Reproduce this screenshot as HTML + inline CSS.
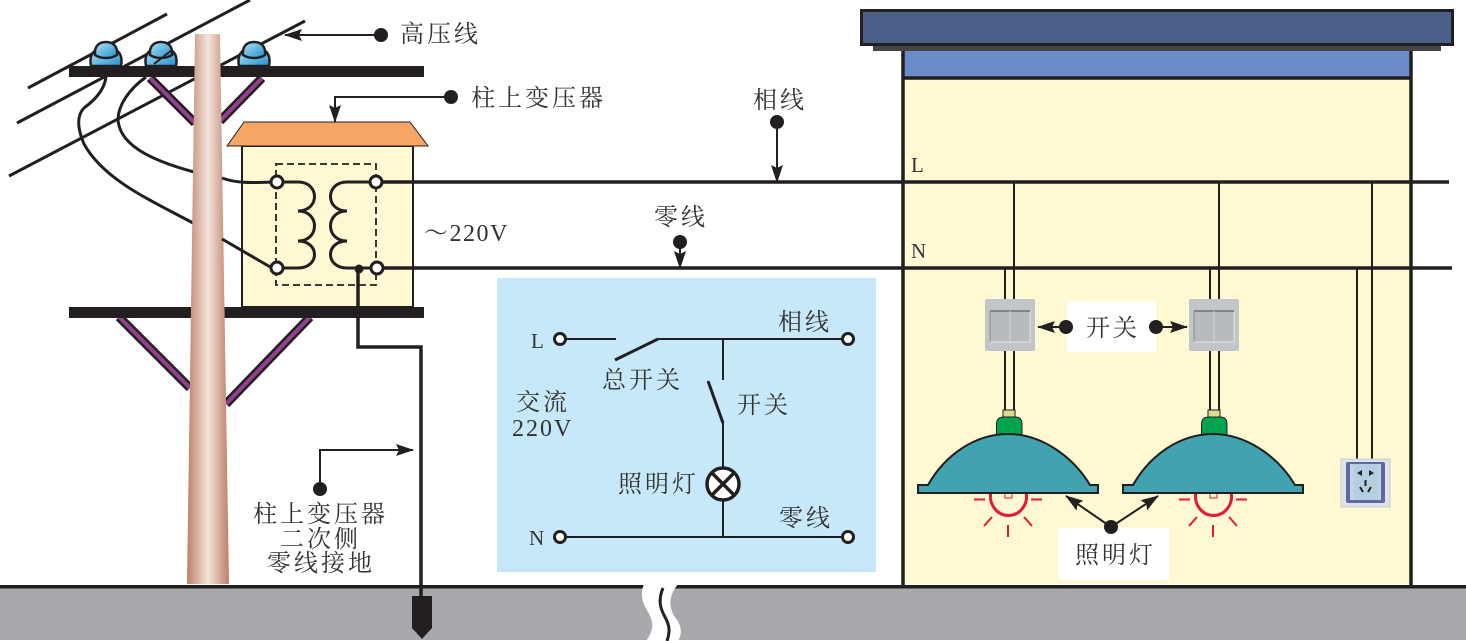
<!DOCTYPE html>
<html><head><meta charset="utf-8"><style>
html,body{margin:0;padding:0;background:#fff;width:1466px;height:641px;overflow:hidden}
svg{display:block}
text{font-family:"Liberation Serif","Noto Serif CJK SC",serif;font-size:24px;fill:#333;letter-spacing:3px}
</style></head><body>
<svg width="1466" height="641" viewBox="0 0 1466 641" xmlns="http://www.w3.org/2000/svg">
<defs>
<linearGradient id="pole" x1="0" x2="1" y1="0" y2="0"><stop offset="0" stop-color="#bd7f68"/><stop offset=".5" stop-color="#f3e4dc"/><stop offset="1" stop-color="#bd7f68"/></linearGradient>
<linearGradient id="ins" x1="0" x2="1" y1="0" y2="1"><stop offset="0" stop-color="#b5e0f0"/><stop offset="1" stop-color="#1d93cf"/></linearGradient>
<marker id="a" markerWidth="18" markerHeight="12" refX="17" refY="6" orient="auto" markerUnits="userSpaceOnUse"><path d="M0 0L18 6L0 12L3 6Z" fill="#231f20"/></marker>
<g id="ins1"><path d="M-15 24C-17 14-13 9-9 8H9C13 9 17 14 15 24Z" fill="url(#ins)" stroke="#231f20" stroke-width="2.500"/><path d="M-11 13C-12 3-6 0 0 0S12 3 11 13C5 17-5 17-11 13Z" fill="url(#ins)" stroke="#231f20" stroke-width="2.500"/></g>
<g id="lamp">
<path d="M1005 351V411M1014 351V411" stroke="#231f20" stroke-width="2" fill="none"/>
<rect x="1003" y="410" width="12" height="8" fill="#d9dd8e" stroke="#231f20"/>
<path d="M996.500 435V424Q996.500 417 1004 417H1015Q1022 417 1022 424V435Z" fill="#00a44f" stroke="#231f20"/>
<path d="M991 492A18 19 0 1 0 1026 492" fill="none" stroke="#e5173f" stroke-width="3"/>
<path d="M1005 491V498H1012V491" fill="none" stroke="#e5173f"/>
<path d="M974 499.500H985M1031 499.500H1042M984 526L992 517M1032 526L1024 517M1008 525V537" stroke="#e5173f" stroke-width="2" fill="none"/>
<path d="M918 485H928C945 455 975 434 1008 434C1040 434 1072 455 1090 485H1098V493H918Z" fill="#42a3b0" stroke="#231f20" stroke-width="2"/>
</g>
<g id="sw">
<rect x="985" y="299" width="50" height="52" rx="2" fill="#c3c6c8"/>
<rect x="990" y="311" width="40" height="31" fill="#b8bbbd" stroke="#e4e4e2"/>
<path d="M990 311H1030" stroke="#6f7274" stroke-width="1.500"/><path d="M990 311V342" stroke="#8c8f91"/>
<path d="M1010 311V342" stroke="#d5d7d8"/>
</g>
</defs>

<!-- ground -->
<rect x="0" y="587" width="1466" height="53" fill="#a7a9ac"/>
<rect x="0" y="585" width="1466" height="3.500" fill="#231f20"/>
<path d="M644 584H678C668 597 668 608 677 620C682 628 682 634 678 641H646C654 630 654 622 648 612C642 602 640 594 644 584Z" fill="#fff"/>
<path d="M663 588C658 600 660 608 665 617C670 626 670 632 667 641" fill="none" stroke="#231f20" stroke-width="3"/>

<!-- building -->
<rect x="903" y="52" width="508" height="532" fill="#fff9d3"/>
<rect x="903" y="51" width="508" height="27" fill="#6c8ac6"/>
<path d="M903 51V585M1411 51V585M903 78H1411" fill="none" stroke="#231f20" stroke-width="3.500"/>
<rect x="873" y="44" width="568" height="7" fill="#444"/>
<rect x="861.500" y="10.500" width="591" height="34" fill="#4c5f89" stroke="#231f20" stroke-width="3"/>

<!-- HV wires -->
<g stroke="#231f20" stroke-width="3" fill="none">
<path d="M28 88L167 14M17 123L250 0M9 176L305 21"/>
<path d="M106 77C104 92 92 102 84 108C76 116 78 130 84 144C104 180 150 200 193 223"/>
<path d="M146 77C128 90 118 106 118 120C120 145 150 160 194 172"/>
</g>
<!-- braces -->
<g fill="none">
<path d="M150 78L195 123M262 78L220 121M119 317L190 388M310 317L226 404" stroke="#231f20" stroke-width="9"/>
<path d="M150 78L195 123M262 78L220 121M119 317L190 388M310 317L226 404" stroke="#93408f" stroke-width="4"/>
</g>
<use href="#ins1" x="106" y="42"/><use href="#ins1" x="161" y="42"/><use href="#ins1" x="254" y="42"/>
<path d="M154 64L172 50" stroke="#231f20" stroke-width="2"/>
<rect x="69" y="66" width="355" height="11" fill="#231f20"/>
<rect x="69" y="307" width="355" height="11" fill="#231f20"/>
<path d="M195 34H220L229 584H187Z" fill="url(#pole)"/>

<!-- transformer -->
<rect x="242" y="146" width="171" height="161" fill="#fff9d3" stroke="#231f20" stroke-width="2"/>
<path d="M227 146H428L410 122H244Z" fill="#f7a666" stroke="#231f20" stroke-width="1"/>
<rect x="276" y="164" width="100" height="121" fill="none" stroke="#231f20" stroke-width="1.800" stroke-dasharray="7 4"/>
<g stroke="#231f20" stroke-width="3" fill="none">
<path d="M222 178C235 183 250 183 272 182M222 239L272 268"/>
</g>
<g fill="none" stroke="#231f20" stroke-width="3">
<path d="M277 182H298C320 182 320 211 298 211C320 211 320 241 298 241C320 241 320 268 298 268H277"/>
<path d="M376 182H347C325 182 325 211 347 211C325 211 325 241 347 241C325 241 325 268 347 268H377"/>
</g>
<path d="M382 182H1449M383 268H1452" stroke="#231f20" stroke-width="3.500" fill="none"/>
<g fill="#fff" stroke="#231f20" stroke-width="3">
<circle cx="277" cy="182" r="6"/><circle cx="376" cy="182" r="6"/><circle cx="277" cy="268" r="6"/><circle cx="377" cy="268" r="6"/>
</g>
<circle cx="359" cy="269" r="4.500" fill="#231f20"/>
<path d="M358 269V347H421V600" fill="none" stroke="#231f20" stroke-width="3.500"/>
<path d="M412 596H432V628L422 639L412 628Z" fill="#231f20"/>

<!-- building wires -->
<g stroke="#231f20" stroke-width="2" fill="none">
<path d="M1014 182V299M1219 182V299M1372 182V459M1005 268V299M1210 268V299M1357 268V459"/>
</g>
<use href="#sw"/><use href="#sw" x="204"/>
<use href="#lamp"/><use href="#lamp" x="205"/>
<rect x="1341" y="459" width="49" height="48" fill="#dfe2ea" stroke="#c8ccd2"/>
<rect x="1346" y="462" width="39" height="41" rx="2" fill="#5a6aa0"/>
<rect x="1350" y="464" width="31" height="36" fill="#c5cfe6"/>
<rect x="1354" y="464" width="24" height="36" fill="#b3cfe0"/>
<path d="M1357 473L1362 470V476ZM1369 470L1374 473L1369 476Z" fill="#231f20"/>
<path d="M1360 487L1363 492M1371 487L1368 492M1365.500 480V486" stroke="#231f20" stroke-width="2" fill="none"/>

<rect x="1067" y="301" width="89" height="51" fill="#fff"/>
<rect x="1058" y="528" width="111" height="52" fill="#fff"/>

<!-- callouts -->
<g stroke="#231f20" stroke-width="2" fill="none">
<path d="M381 35H285" marker-end="url(#a)"/>
<path d="M451 97H335V122" marker-end="url(#a)"/>
<path d="M777 122V182" marker-end="url(#a)"/>
<path d="M680 242V268" marker-end="url(#a)"/>
<path d="M320 489V450H413" marker-end="url(#a)"/>
<path d="M1066 327H1038" marker-end="url(#a)"/>
<path d="M1156 327H1187" marker-end="url(#a)"/>
<path d="M1111 527L1066 496" marker-end="url(#a)"/>
<path d="M1111 527L1158 496" marker-end="url(#a)"/>
</g>
<g fill="#231f20">
<circle cx="381" cy="35" r="7"/><circle cx="451" cy="97" r="7"/><circle cx="777" cy="122" r="7"/><circle cx="680" cy="242" r="7"/><circle cx="320" cy="489" r="7"/><circle cx="1066" cy="327" r="7"/><circle cx="1156" cy="327" r="7"/><circle cx="1111" cy="527" r="7"/>
</g>

<!-- panel -->
<rect x="497" y="278" width="379" height="294" fill="#c6e8f9"/>
<g stroke="#231f20" stroke-width="2" fill="none">
<path d="M566 339H616M658 339H842M723 339V380M723 423V468M723 500V537M566 537H842"/>
<path d="M615 360L658 339M708 381L723 423" stroke-width="3"/>
</g>
<g fill="#fff" stroke="#231f20" stroke-width="3">
<circle cx="560" cy="339" r="5.500"/><circle cx="848" cy="339" r="5.500"/><circle cx="560" cy="537" r="5.500"/><circle cx="848" cy="537" r="5.500"/>
</g>
<circle cx="723" cy="484" r="16" fill="#fff" stroke="#231f20" stroke-width="3.500"/>
<path d="M712 473L734 495M734 473L712 495" stroke="#231f20" stroke-width="3.500"/>

<!-- labels -->
<text x="400" y="42">高压线</text>
<text x="471" y="106">柱上变压器</text>
<text x="753" y="108">相线</text>
<text x="654" y="225">零线</text>
<text x="424" y="241" style="letter-spacing:1.500px">～220V</text>
<text x="911" y="172" style="font-size:21px;letter-spacing:0">L</text>
<text x="911" y="258" style="font-size:21px;letter-spacing:0">N</text>
<text x="1086" y="336">开关</text>
<text x="1075" y="563">照明灯</text>
<text x="253" y="522">柱上变压器</text>
<text x="280" y="547">二次侧</text>
<text x="267" y="571">零线接地</text>
<text x="531" y="348" style="font-size:21px;letter-spacing:0">L</text>
<text x="529" y="545" style="font-size:21px;letter-spacing:0">N</text>
<text x="778" y="330">相线</text>
<text x="602" y="388">总开关</text>
<text x="516" y="410">交流</text>
<text x="512" y="436" style="letter-spacing:2px">220V</text>
<text x="737" y="413">开关</text>
<text x="618" y="492">照明灯</text>
<text x="779" y="526">零线</text>
</svg>
</body></html>
